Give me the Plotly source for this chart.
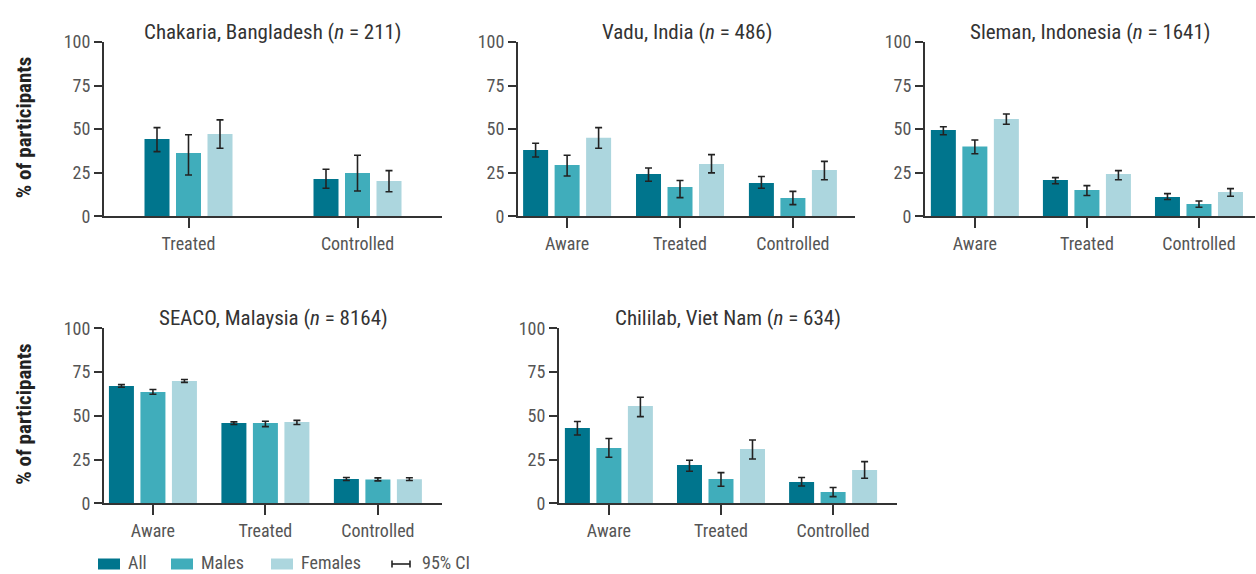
import plotly.graph_objects as go

# ---- data: % of participants with 95% CI (lo, hi) ----
chakaria_cats = ["Treated", "Controlled"]
chakaria_all = [44.4, 21.4]
chakaria_all_lo = [37.1, 16.1]
chakaria_all_hi = [50.9, 27.0]
chakaria_males = [36.3, 24.9]
chakaria_males_lo = [23.7, 14.5]
chakaria_males_hi = [46.8, 35.0]
chakaria_females = [47.2, 20.3]
chakaria_females_lo = [39.0, 14.1]
chakaria_females_hi = [55.3, 26.2]

vadu_cats = ["Aware", "Treated", "Controlled"]
vadu_all = [38.0, 24.3, 19.1]
vadu_all_lo = [34.0, 20.1, 16.1]
vadu_all_hi = [41.9, 27.7, 22.8]
vadu_males = [29.4, 16.8, 10.5]
vadu_males_lo = [23.1, 10.7, 6.7]
vadu_males_hi = [35.0, 20.5, 14.3]
vadu_females = [45.1, 30.0, 26.6]
vadu_females_lo = [39.0, 24.9, 21.0]
vadu_females_hi = [50.9, 35.4, 31.5]

sleman_cats = ["Aware", "Treated", "Controlled"]
sleman_all = [49.5, 20.8, 11.1]
sleman_all_lo = [46.8, 18.7, 9.6]
sleman_all_hi = [51.4, 22.2, 13.0]
sleman_males = [40.0, 15.1, 7.1]
sleman_males_lo = [35.9, 11.9, 5.2]
sleman_males_hi = [43.8, 17.6, 8.8]
sleman_females = [55.8, 24.3, 14.0]
sleman_females_lo = [52.8, 21.0, 11.5]
sleman_females_hi = [58.7, 26.2, 15.9]

seaco_cats = ["Aware", "Treated", "Controlled"]
seaco_all = [67.0, 45.9, 13.9]
seaco_all_lo = [66.3, 45.0, 13.0]
seaco_all_hi = [67.8, 46.5, 14.7]
seaco_males = [63.6, 45.9, 13.6]
seaco_males_lo = [62.3, 43.8, 12.8]
seaco_males_hi = [65.0, 46.9, 14.5]
seaco_females = [69.9, 46.5, 13.8]
seaco_females_lo = [69.1, 45.0, 13.0]
seaco_females_hi = [70.7, 47.4, 14.6]

chililab_cats = ["Aware", "Treated", "Controlled"]
chililab_all = [43.0, 21.9, 12.2]
chililab_all_lo = [39.0, 18.3, 9.9]
chililab_all_hi = [46.7, 24.6, 14.7]
chililab_males = [31.6, 13.9, 6.5]
chililab_males_lo = [26.3, 9.7, 3.8]
chililab_males_hi = [37.0, 17.5, 9.0]
chililab_females = [55.6, 31.0, 19.0]
chililab_females_lo = [49.5, 25.3, 14.3]
chililab_females_hi = [60.6, 36.2, 23.8]

y_ticks = [0, 25, 50, 75, 100]
group_names = ["All", "Males", "Females"]
group_colors = ["#00758d", "#40adbb", "#acd6de"]

W, H = 1256, 574
FONT = "Roboto Condensed, Liberation Sans Narrow, sans-serif"
AXIS_COLOR = "#333333"
TEXT_COLOR = "#555555"
TICK_SIZE = 18

# panel geometry in pixels: x extent, y of the 100 and 0 ticks, category range
panels = [
    dict(title="Chakaria, Bangladesh (<i>n</i> = 211)", cats=chakaria_cats,
         series=[(chakaria_all, chakaria_all_lo, chakaria_all_hi),
                 (chakaria_males, chakaria_males_lo, chakaria_males_hi),
                 (chakaria_females, chakaria_females_lo, chakaria_females_hi)],
         px=(104, 442), py=(42, 216.3), xr=(-0.5, 1.5), ylabel=True),
    dict(title="Vadu, India (<i>n</i> = 486)", cats=vadu_cats,
         series=[(vadu_all, vadu_all_lo, vadu_all_hi),
                 (vadu_males, vadu_males_lo, vadu_males_hi),
                 (vadu_females, vadu_females_lo, vadu_females_hi)],
         px=(518, 855), py=(42, 216.3), xr=(-0.435, 2.55), ylabel=False),
    dict(title="Sleman, Indonesia (<i>n</i> = 1641)", cats=sleman_cats,
         series=[(sleman_all, sleman_all_lo, sleman_all_hi),
                 (sleman_males, sleman_males_lo, sleman_males_hi),
                 (sleman_females, sleman_females_lo, sleman_females_hi)],
         px=(925, 1255), py=(42, 216.3), xr=(-0.445, 2.5), ylabel=False),
    dict(title="SEACO, Malaysia (<i>n</i> = 8164)", cats=seaco_cats,
         series=[(seaco_all, seaco_all_lo, seaco_all_hi),
                 (seaco_males, seaco_males_lo, seaco_males_hi),
                 (seaco_females, seaco_females_lo, seaco_females_hi)],
         px=(104, 442), py=(328.3, 503.3), xr=(-0.435, 2.57), ylabel=True),
    dict(title="Chililab, Viet Nam (<i>n</i> = 634)", cats=chililab_cats,
         series=[(chililab_all, chililab_all_lo, chililab_all_hi),
                 (chililab_males, chililab_males_lo, chililab_males_hi),
                 (chililab_females, chililab_females_lo, chililab_females_hi)],
         px=(559, 897), py=(328.3, 503.3), xr=(-0.445, 2.57), ylabel=False),
]

BAR_STEP_PX = 31.5   # distance between neighbouring bars in a group
BAR_W_PX = 25        # bar width

fig = go.Figure()
annotations = []
shapes = []

for i, p in enumerate(panels, start=1):
    xa = "x" if i == 1 else f"x{i}"
    ya = "y" if i == 1 else f"y{i}"
    x0, x1 = p["px"]
    yt, yb = p["py"]
    px_per_cat = (x1 - x0) / (p["xr"][1] - p["xr"][0])
    step = BAR_STEP_PX / px_per_cat
    bw = BAR_W_PX / px_per_cat
    for k, (vals, lo, hi) in enumerate(p["series"]):
        fig.add_trace(go.Bar(
            x=p["cats"], y=vals, xaxis=xa, yaxis=ya,
            name=group_names[k], showlegend=False,
            marker=dict(color=group_colors[k], line=dict(width=0)),
            offset=(k - 1) * step - bw / 2, width=bw,
            error_y=dict(type="data", symmetric=False,
                         array=[h - v for h, v in zip(hi, vals)],
                         arrayminus=[v - l for v, l in zip(vals, lo)],
                         color="#222222", thickness=1.6, width=3.5),
        ))
    xkey = "xaxis" if i == 1 else f"xaxis{i}"
    ykey = "yaxis" if i == 1 else f"yaxis{i}"
    fig.layout[xkey] = dict(
        domain=[x0 / W, x1 / W], anchor=ya, type="category",
        range=list(p["xr"]), showline=True, linecolor=AXIS_COLOR, linewidth=2,
        ticks="outside", ticklen=10, tickwidth=2, tickcolor=AXIS_COLOR,
        tickfont=dict(family=FONT, size=TICK_SIZE, color=TEXT_COLOR),
        showgrid=False, zeroline=False, fixedrange=True, automargin=False,
    )
    fig.layout[ykey] = dict(
        domain=[1 - yb / H, 1 - yt / H], anchor=xa,
        range=[0, 100], tickvals=y_ticks,
        showline=True, linecolor=AXIS_COLOR, linewidth=2,
        ticks="outside", ticklen=8, tickwidth=2, tickcolor=AXIS_COLOR,
        tickfont=dict(family=FONT, size=TICK_SIZE, color=TEXT_COLOR),
        showgrid=False, zeroline=False, fixedrange=True, automargin=False,
    )
    annotations.append(dict(
        text=p["title"], xref="paper", yref="paper",
        x=(x0 + x1) / 2 / W, y=1 - (yt - 10) / H,
        xanchor="center", yanchor="middle", showarrow=False,
        font=dict(family=FONT, size=21, color="#333333"),
    ))
    if p["ylabel"]:
        annotations.append(dict(
            text="<b>% of participants</b>", xref="paper", yref="paper",
            x=24 / W, y=1 - ((yt + yb) / 2 - 1) / H, textangle=-90,
            xanchor="center", yanchor="middle", showarrow=False,
            font=dict(family=FONT, size=21, color="#222222"),
        ))

# legend row along the bottom edge
legend_y = 564
for name, col, sx in zip(group_names, group_colors, [98, 171, 271]):
    shapes.append(dict(type="rect", xref="paper", yref="paper",
                       x0=sx / W, x1=(sx + 22) / W,
                       y0=1 - (legend_y + 5.5) / H, y1=1 - (legend_y - 5.5) / H,
                       fillcolor=col, line=dict(width=0)))
    annotations.append(dict(text=name, xref="paper", yref="paper",
                            x=(sx + 29) / W, y=0, borderpad=0,
                            xanchor="left", yanchor="bottom", showarrow=False,
                            font=dict(family=FONT, size=TICK_SIZE, color=TEXT_COLOR)))
# CI symbol
ci_x0, ci_x1 = 392, 410
shapes.append(dict(type="line", xref="paper", yref="paper",
                   x0=ci_x0 / W, x1=ci_x1 / W,
                   y0=1 - legend_y / H, y1=1 - legend_y / H,
                   line=dict(color="#222222", width=1.6)))
for cx in (ci_x0, ci_x1):
    shapes.append(dict(type="line", xref="paper", yref="paper",
                       x0=cx / W, x1=cx / W,
                       y0=1 - (legend_y - 3.5) / H, y1=1 - (legend_y + 3.5) / H,
                       line=dict(color="#222222", width=1.6)))
annotations.append(dict(text="95% CI", xref="paper", yref="paper",
                        x=421 / W, y=0, borderpad=0,
                        xanchor="left", yanchor="bottom", showarrow=False,
                        font=dict(family=FONT, size=TICK_SIZE, color=TEXT_COLOR)))

fig.update_layout(
    width=W, height=H,
    margin=dict(l=0, r=0, t=0, b=0, pad=0, autoexpand=False),
    paper_bgcolor="white", plot_bgcolor="white",
    barmode="overlay", showlegend=False,
    annotations=annotations, shapes=shapes,
    font=dict(family=FONT, color=TEXT_COLOR),
)

fig.write_html("out.html", config={"displayModeBar": False})
